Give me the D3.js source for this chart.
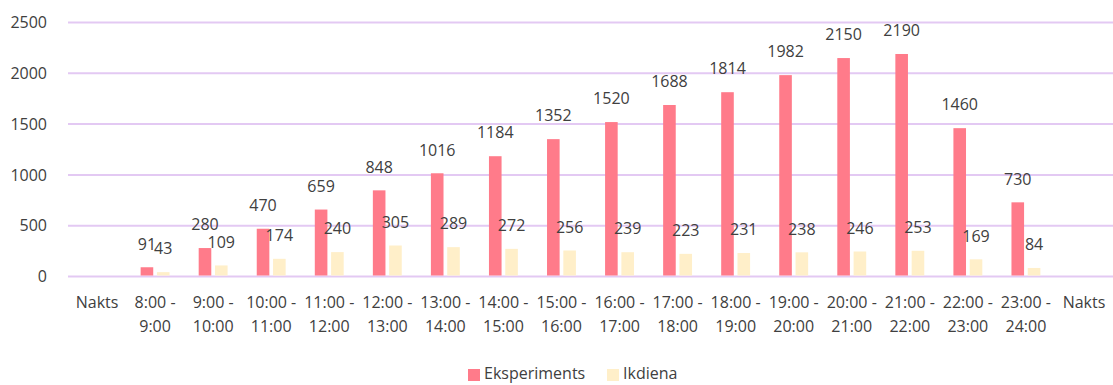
<!DOCTYPE html>
<html>
<head>
<meta charset="utf-8">
<script src="https://cdn.jsdelivr.net/npm/d3@7"></script>
<style>
  html, body { margin: 0; padding: 0; background: #fff; }
  svg text { font-family: "Open Sans", "Noto Sans", sans-serif; fill: #404040; }
</style>
</head>
<body>
<svg id="chart" width="1113" height="385"></svg>
<script>
// Hour ranges (two-line labels), "Nakts" = night with no data
const categories = [
  ["Nakts"],
  ["8:00 -", "9:00"], ["9:00 -", "10:00"], ["10:00 -", "11:00"], ["11:00 -", "12:00"],
  ["12:00 -", "13:00"], ["13:00 -", "14:00"], ["14:00 -", "15:00"], ["15:00 -", "16:00"],
  ["16:00 -", "17:00"], ["17:00 -", "18:00"], ["18:00 -", "19:00"], ["19:00 -", "20:00"],
  ["20:00 -", "21:00"], ["21:00 -", "22:00"], ["22:00 -", "23:00"], ["23:00 -", "24:00"],
  ["Nakts"]
];
const eksperiments = [null, 91, 280, 470, 659, 848, 1016, 1184, 1352, 1520, 1688, 1814, 1982, 2150, 2190, 1460, 730, null];
const ikdiena = [null, 43, 109, 174, 240, 305, 289, 272, 256, 239, 223, 231, 238, 246, 253, 169, 84, null];
const yTicks = [0, 500, 1000, 1500, 2000, 2500];
const seriesNames = ["Eksperiments", "Ikdiena"];
const colors = ["#FF7B8A", "#FFEFC9"];

const svg = d3.select("#chart");
const margin = { left: 68, right: 0, top: 22.5, bottom: 109 };
const W = 1113, H = 385;

const keys = categories.map((c, i) => i);
const x = d3.scaleBand().domain(keys).range([margin.left, W - margin.right]).padding(0);
const y = d3.scaleLinear().domain([0, 2500]).range([H - margin.bottom + 0.5, margin.top]);

// gridlines
svg.append("g")
  .selectAll("line")
  .data(yTicks)
  .join("line")
  .attr("x1", margin.left).attr("x2", W)
  .attr("y1", d => y(d)).attr("y2", d => y(d))
  .attr("stroke", "#E3C9F3").attr("stroke-width", 2);

// y axis labels
const yAxis = d3.axisLeft(y).tickValues(yTicks).tickSize(0).tickPadding(0).tickFormat(d3.format("d"));
const yg = svg.append("g").attr("transform", `translate(47,0)`).call(yAxis);
yg.select(".domain").remove();
yg.selectAll("text").attr("font-size", 16).style("fill", "#404040")
  .attr("font-family", "'Open Sans', 'Noto Sans', sans-serif");

// bars with value labels
const barW = 12.6, gap = 3.7;
const series = [eksperiments, ikdiena];
series.forEach((vals, si) => {
  const offset = si === 0 ? -(gap / 2 + barW) : gap / 2;
  const g = svg.append("g");
  const data = vals.map((v, i) => ({ v, i })).filter(d => d.v != null);
  g.selectAll("rect")
    .data(data)
    .join("rect")
    .attr("x", d => x(d.i) + x.bandwidth() / 2 + offset)
    .attr("width", barW)
    .attr("y", d => y(d.v))
    .attr("height", d => y(0) - y(d.v) - 1)
    .attr("fill", colors[si]);
  g.selectAll("text")
    .data(data)
    .join("text")
    .attr("x", d => x(d.i) + x.bandwidth() / 2 + offset + barW / 2)
    .attr("y", d => y(d.v) - 22)
    .attr("text-anchor", "middle")
    .attr("dominant-baseline", "middle")
    .attr("font-size", 16)
    .text(d => d.v);
});

// x labels
const xg = svg.append("g");
categories.forEach((lines, i) => {
  const cx = x(i) + x.bandwidth() / 2;
  const t = xg.append("text")
    .attr("x", cx)
    .attr("y", 304)
    .attr("text-anchor", "middle")
    .attr("dominant-baseline", "middle")
    .attr("font-size", 16);
  lines.forEach((ln, li) => {
    t.append("tspan")
      .attr("x", cx)
      .attr("dy", li === 0 ? 0 : 24)
      .text(ln);
  });
});

// legend
const legend = svg.append("g");
const items = [{ name: seriesNames[0], x: 468 }, { name: seriesNames[1], x: 607 }];
items.forEach((it, i) => {
  legend.append("rect").attr("x", it.x).attr("y", 369).attr("width", 12).attr("height", 12).attr("fill", colors[i]);
  legend.append("text").attr("x", it.x + 16).attr("y", 375)
    .attr("dominant-baseline", "middle").attr("font-size", 16).text(it.name);
});
</script>
</body>
</html>
